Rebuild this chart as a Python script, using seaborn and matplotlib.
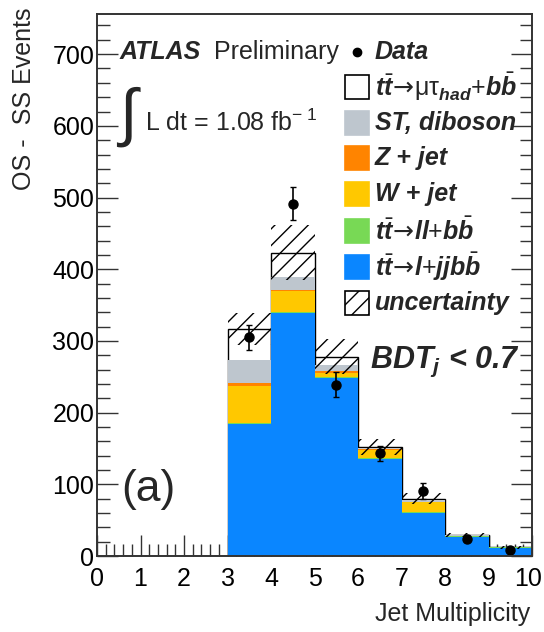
import numpy as np
import pandas as pd
import matplotlib
matplotlib.use("Agg")
import matplotlib.pyplot as plt
from matplotlib.patches import Rectangle
from matplotlib.lines import Line2D
from matplotlib.ticker import MultipleLocator
from matplotlib.transforms import ScaledTranslation
import seaborn as sns

# ---- data: jet multiplicity bins 3..9 (bin edges 0..10) ----
bin_edges = list(range(0, 11))
jet_bins = [3, 4, 5, 6, 7, 8, 9]

ttbar_ljj = [184, 339, 248, 135, 60, 27, 11]
ttbar_ll = [1, 2, 2, 1, 1, 0.5, 1]
w_jet = [52, 29, 5, 12, 14, 0.5, 0]
z_jet = [4, 1, 3, 1, 1, 0.3, 0]
st_diboson = [32, 18, 8, 2, 2, 0.5, 0]
signal = [44, 34, 12, 1, 2, 0.5, 0]
uncertainty = [22, 38, 24, 11, 8, 3, 2]

data_counts = [305, 491, 239, 143, 91, 24, 9]
data_errors = [17, 23, 17, 11, 11, 5, 3]

x_ticks = list(range(0, 11))
y_ticks = list(range(0, 800, 100))

W, H = 544, 632

sns.set_style("ticks")
plt.rcParams["font.family"] = ["Liberation Sans", "DejaVu Sans"]
plt.rcParams["mathtext.fontset"] = "custom"
plt.rcParams["mathtext.rm"] = "Liberation Sans"
plt.rcParams["mathtext.it"] = "Liberation Sans:italic:bold"
plt.rcParams["mathtext.bf"] = "Liberation Sans:bold"
plt.rcParams["mathtext.sf"] = "DejaVu Sans"
plt.rcParams["hatch.linewidth"] = 1.0

C_BLUE = "#0a86ff"
C_GREEN = "#78d955"
C_YELLOW = "#ffc800"
C_ORANGE = "#ff8400"
C_GREY = "#bec6ce"

fig = plt.figure(figsize=(W / 100, H / 100), dpi=100)
ax = fig.add_axes([97 / W, 1 - 556 / H, (532 - 97) / W, (556 - 14) / H])

centers = np.array(jet_bins) + 0.5
total = (np.array(ttbar_ljj) + np.array(ttbar_ll) + np.array(w_jet)
         + np.array(z_jet) + np.array(st_diboson) + np.array(signal))

# signal on top of the stack: white box outlined in black, full height
sns.histplot(x=centers, weights=total, bins=bin_edges, color="white",
             edgecolor="black", linewidth=1.0, alpha=1, ax=ax)

# background stack
procs = {
    "ST, diboson": st_diboson,
    "Z + jet": z_jet,
    "W + jet": w_jet,
    "ll": ttbar_ll,
    "ljj": ttbar_ljj,
}
rows = []
for name, vals in procs.items():
    for c, v in zip(centers, vals):
        rows.append({"njet": c, "count": v, "process": name})
df = pd.DataFrame(rows)
sns.histplot(data=df, x="njet", weights="count", hue="process",
             hue_order=list(procs.keys()),
             palette=[C_GREY, C_ORANGE, C_YELLOW, C_GREEN, C_BLUE],
             multiple="stack", bins=bin_edges, linewidth=0, alpha=1,
             legend=False, ax=ax)

# uncertainty band
unc = np.array(uncertainty)
ax.bar(centers, 2 * unc, bottom=total - unc, width=1.0, fill=False,
       hatch="//", edgecolor="black", linewidth=0)

# data points
ax.errorbar(centers, data_counts, yerr=data_errors, fmt="o", color="black",
            ms=6.5, capsize=2.5, elinewidth=1.2, capthick=1.0)

ax.set_xlim(0, 10)
ax.set_ylim(0, 756)
ax.set_xticks(x_ticks)
ax.set_yticks(y_ticks)
ax.xaxis.set_minor_locator(MultipleLocator(0.2))
ax.yaxis.set_minor_locator(MultipleLocator(20))
ax.tick_params(which="both", direction="in", right=True, top=False,
               labelsize=18, colors="#333333", labelcolor="black")
ax.tick_params(which="major", length=15, width=1.0)
ax.tick_params(which="minor", length=9, width=1.0)
ax.tick_params(axis="x", pad=8)
ax.tick_params(axis="y", pad=2)
for s in ax.spines.values():
    s.set_linewidth(1.4)
    s.set_color("#333333")
    s.set_visible(True)

# keep the last x tick label inside the canvas
last = ax.xaxis.get_major_ticks()[-1].label1
last.set_transform(last.get_transform()
                   + ScaledTranslation(-4 / 100, 0, fig.dpi_scale_trans))

ax.set_xlabel("Jet Multiplicity", fontsize=18, loc="right")
ax.xaxis.set_label_coords((530 - 97) / 435, -(602 - 556) / 542)
ax.set_ylabel("OS -  SS Events", fontsize=18, loc="top")
ax.yaxis.set_label_coords(-(97 - 36) / 435, 1 + 6 / 542)


def fx(x):
    return x / W


def fy(y):
    return 1 - y / H


# header texts
fig.text(fx(120), fy(52), "ATLAS", fontsize=18, fontweight="bold",
         style="italic", va="center")
fig.text(fx(214), fy(52), "Preliminary", fontsize=18, va="center")
fig.text(fx(116), fy(117), r"$\int$", fontsize=46, va="center")
fig.text(fx(145), fy(123), r"L dt = 1.08 fb$^{\mathrm{-}\;\mathrm{1}}$",
         fontsize=18, va="center")
fig.text(fx(121), fy(490), "(a)", fontsize=32, va="center")
fig.text(fx(370), fy(362), r"BDT$_{j}$ < 0.7", fontsize=22,
         fontweight="bold", style="italic", va="center")

# legend
fig.add_artist(Line2D([fx(357)], [fy(52)], marker="o", color="black",
                      ms=6, transform=fig.transFigure))
fig.text(fx(375), fy(52), "Data", fontsize=18, fontweight="bold",
         style="italic", va="center")

arrow = r"\!\mathsf{\rightarrow}\!"
entries = [
    ("white", None,
     r"$t\bar{t}" + arrow + r"\mathrm{\mu\tau}_{had}\mathit{+}b\bar{b}$"),
    (C_GREY, None, "ST, diboson"),
    (C_ORANGE, None, "Z + jet"),
    (C_YELLOW, None, "W + jet"),
    (C_GREEN, None, r"$t\bar{t}" + arrow + r"ll\mathit{+}b\bar{b}$"),
    (C_BLUE, None, r"$t\bar{t}" + arrow + r"l\mathit{+}jjb\bar{b}$"),
    ("white", "//", "uncertainty"),
]
row_y = [87, 123, 158, 194, 231, 267, 303]
for (col, hatch, label), yc in zip(entries, row_y):
    edge = "black" if col == "white" else col
    fig.add_artist(Rectangle((fx(345), fy(yc + 12)), 24 / W, 24 / H,
                             facecolor=col, edgecolor=edge, hatch=hatch,
                             linewidth=1.2, transform=fig.transFigure))
    fig.text(fx(375), fy(yc), label, fontsize=18, fontweight="bold",
             style="italic", va="center")

fig.savefig("out.png", dpi=100)
